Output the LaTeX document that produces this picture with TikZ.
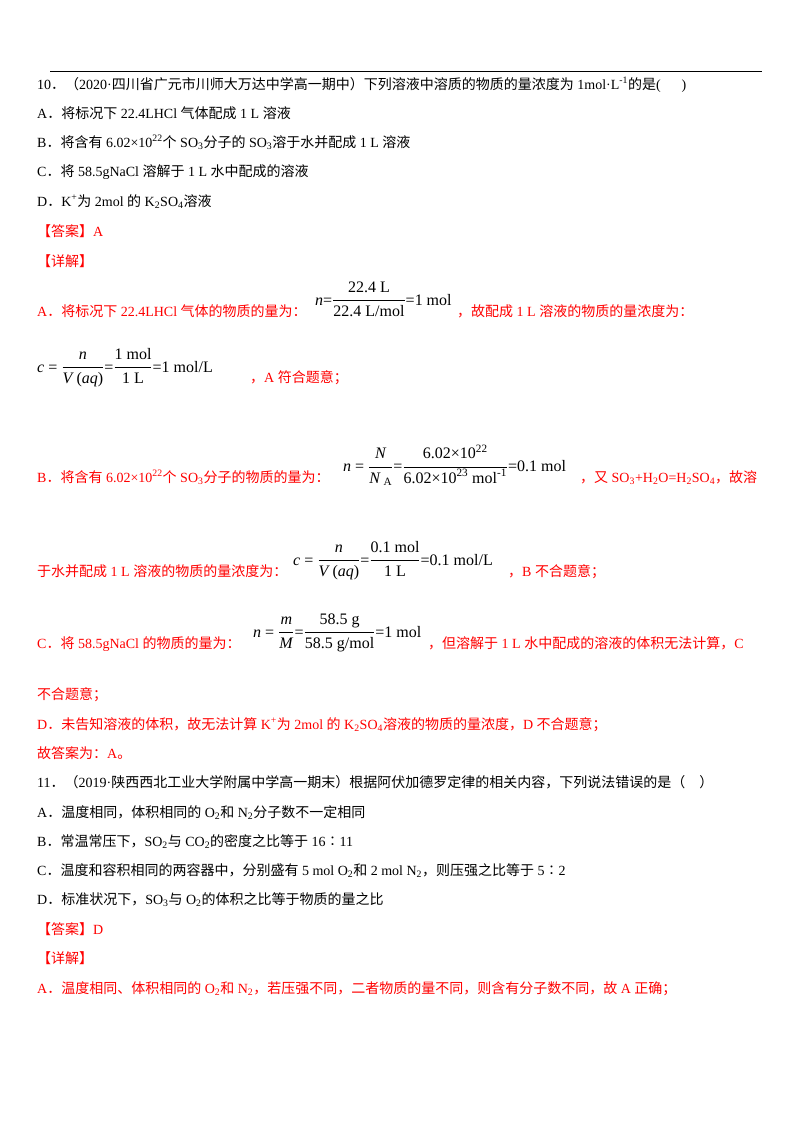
\documentclass[tikz,border=0pt]{standalone}
\usepackage{fontspec}
\setmainfont{Liberation Serif}
\newfontfamily\latf{Liberation Serif}
\newfontfamily\cjkf{Noto Sans CJK SC}
\XeTeXinterchartokenstate=1
\newXeTeXintercharclass\cjkclass
\count255="4E00
\loop\XeTeXcharclass\count255=\cjkclass\ifnum\count255<"9FFF\advance\count255 1\repeat
\count255="3000
\loop\XeTeXcharclass\count255=\cjkclass\ifnum\count255<"303F\advance\count255 1\repeat
\count255="FF00
\loop\XeTeXcharclass\count255=\cjkclass\ifnum\count255<"FFEF\advance\count255 1\repeat
\XeTeXcharclass"2236=\cjkclass
\XeTeXinterchartoks 0 \cjkclass = {\cjkf}
\XeTeXinterchartoks 4095 \cjkclass = {\cjkf}
\XeTeXinterchartoks \cjkclass 0 = {\latf}
\XeTeXinterchartoks \cjkclass 4095 = {\latf}
\newcommand\sbx[1]{\textsubscript{#1}}
\newcommand\spx[1]{\textsuperscript{#1}}
\newcommand\fr[2]{$\displaystyle\frac{\text{\strut #1}}{\text{\strut #2}}$}
\usepackage{amsmath}
\begin{document}
\begin{tikzpicture}[x=1pt,y=-1pt,
  t/.style={anchor=base west,inner sep=0pt,font=\fontsize{14}{17}\selectfont},
  r/.style={t,text=red},
  f/.style={anchor=west,inner sep=0pt,font=\fontsize{16}{19}\selectfont}]
\useasboundingbox (0,0) rectangle (800,1132);
\fill[white] (0,0) rectangle (800,1132);
\coordinate (l1) at (50,71); \coordinate (l2) at (762,71);
\draw[line width=0.8pt] (l1) -- (l2);
\node[t] (q1) at (37,89) {10．（2020·四川省广元市川师大万达中学高一期中）下列溶液中溶质的物质的量浓度为 1mol·L\spx{-1}的是(\quad\ \ )};
\node[t] (qa) at (37,118) {A．将标况下 22.4LHCl 气体配成 1 L 溶液};
\node[t] (qb) at (37,147) {B．将含有 6.02×10\spx{22}个 SO\sbx{3}分子的 SO\sbx{3}溶于水并配成 1 L 溶液};
\node[t] (qc) at (37,176) {C．将 58.5gNaCl 溶解于 1 L 水中配成的溶液};
\node[t] (qd) at (37,206) {D．K\spx{+}为 2mol 的 K\sbx{2}SO\sbx{4}溶液};
\node[r] (ans1) at (37,236) {【答案】A};
\node[r] (det1) at (37,266) {【详解】};
\node[r] (ea1) at (37,316) {A．将标况下 22.4LHCl 气体的物质的量为：};
\node[f] (fa1) at (315,301) {\textit{n}=\fr{22.4 L}{22.4 L/mol}=1 mol};
\node[r] (ea2) at (457,316) {，故配成 1 L 溶液的物质的量浓度为：};
\node[f] (fa2) at (37,368) {\textit{c} = \fr{\textit{n}}{\textit{V}\,(\textit{aq})}=\fr{1 mol}{1 L}=1 mol/L};
\node[r] (ea3) at (250,382) {，A 符合题意；};
\node[r] (eb1) at (37,482) {B．将含有 6.02×10\spx{22}个 SO\sbx{3}分子的物质的量为：};
\node[f] (fb1) at (343,467) {\textit{n} = \fr{\textit{N}}{\textit{N}\,\sbx{A}}=\fr{6.02×10\spx{22}}{6.02×10\spx{23} mol\spx{-1}}=0.1 mol};
\node[r] (eb2) at (580,482) {，又 SO\sbx{3}+H\sbx{2}O=H\sbx{2}SO\sbx{4}，故溶};
\node[r] (eb3) at (37,576) {于水并配成 1 L 溶液的物质的量浓度为：};
\node[f] (fb2) at (293,561) {\textit{c} = \fr{\textit{n}}{\textit{V}\,(\textit{aq})}=\fr{0.1 mol}{1 L}=0.1 mol/L};
\node[r] (eb4) at (508,576) {，B 不合题意；};
\node[r] (ec1) at (37,648) {C．将 58.5gNaCl 的物质的量为：};
\node[f] (fc1) at (253,633) {\textit{n} = \fr{\textit{m}}{\textit{M}}=\fr{58.5 g}{58.5 g/mol}=1 mol};
\node[r] (ec2) at (428,648) {，但溶解于 1 L 水中配成的溶液的体积无法计算，C};
\node[r] (ec3) at (37,699) {不合题意；};
\node[r] (ed1) at (37,729) {D．未告知溶液的体积，故无法计算 K\spx{+}为 2mol 的 K\sbx{2}SO\sbx{4}溶液的物质的量浓度，D 不合题意；};
\node[r] (ee1) at (37,758) {故答案为：A。};
\node[t] (q2) at (37,787) {11．（2019·陕西西北工业大学附属中学高一期末）根据阿伏加德罗定律的相关内容，下列说法错误的是（\quad）};
\node[t] (q2a) at (37,817) {A．温度相同，体积相同的 O\sbx{2}和 N\sbx{2}分子数不一定相同};
\node[t] (q2b) at (37,846) {B．常温常压下，SO\sbx{2}与 CO\sbx{2}的密度之比等于 16∶11};
\node[t] (q2c) at (37,875) {C．温度和容积相同的两容器中，分别盛有 5 mol O\sbx{2}和 2 mol N\sbx{2}，则压强之比等于 5∶2};
\node[t] (q2d) at (37,904) {D．标准状况下，SO\sbx{3}与 O\sbx{2}的体积之比等于物质的量之比};
\node[r] (ans2) at (37,934) {【答案】D};
\node[r] (det2) at (37,963) {【详解】};
\node[r] (e2a) at (37,993) {A．温度相同、体积相同的 O\sbx{2}和 N\sbx{2}，若压强不同，二者物质的量不同，则含有分子数不同，故 A 正确；};
\end{tikzpicture}
\end{document}
